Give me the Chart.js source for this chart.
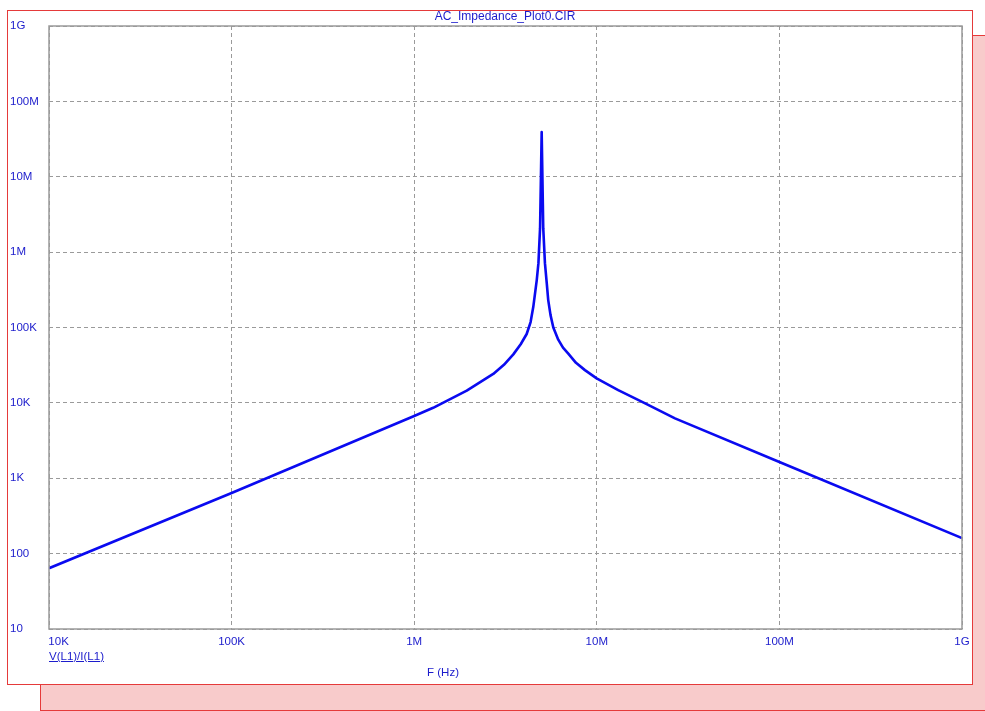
<!DOCTYPE html>
<html>
<head>
<meta charset="utf-8">
<script src="https://cdn.jsdelivr.net/npm/chart.js@4/dist/chart.umd.min.js"></script>
<style>
  html, body { margin: 0; padding: 0; background: #ffffff; }
  #wrap { position: relative; width: 985px; height: 711px; overflow: hidden; }
  .shadow { position: absolute; left: 40px; top: 35px; width: 960px; height: 674px;
            background: #f8cbcb; border: 1px solid #e53a3a; }
  .panel { position: absolute; left: 7px; top: 10px; width: 964px; height: 673px;
           background: #ffffff; border: 1px solid #e53a3a; }
  .txt { position: absolute; font-family: "Liberation Sans", Arial, sans-serif;
         font-size: 11.5px; color: #1c1ccc; white-space: nowrap; line-height: 1; }
  #title { left: 505px; top: 10px; transform: translateX(-50%); font-size: 12px; }
  #trace { left: 49px; top: 651px; text-decoration: underline; }
  #faxis { left: 443px; top: 667px; transform: translateX(-50%); }
  canvas { position: absolute; left: 0; top: 0; }
</style>
</head>
<body>
<div id="wrap">
  <div class="shadow"></div>
  <div class="panel"></div>
  <canvas id="chart" width="985" height="711"></canvas>
  <div class="txt" id="title">AC_Impedance_Plot0.CIR</div>
  <div class="txt" id="trace">V(L1)/I(L1)</div>
  <div class="txt" id="faxis">F (Hz)</div>
</div>
<script>
// Frequency sweep (Hz) and impedance magnitude V(L1)/I(L1) (ohms)
const freqHz = [1e4, 1e5, 1e6, 1.27e6, 1.94e6, 2.71e6, 3.1e6, 3.49e6, 3.83e6, 4.13e6,
  4.34e6, 4.49e6, 4.69e6, 4.79e6, 4.89e6, 4.99e6, 5.09e6, 5.2e6, 5.32e6, 5.42e6,
  5.58e6, 5.78e6, 6.15e6, 6.53e6, 6.98e6, 7.69e6, 8.61e6, 9.98e6, 1.31e7, 1.84e7,
  2.68e7, 1e8, 1e9];
const impedance = [64, 637, 6.7e3, 8.6e3, 1.45e4, 2.42e4, 3.2e4, 4.4e4, 6.0e4, 8.2e4,
  1.18e5, 1.88e5, 4.26e5, 7.14e5, 2.08e6, 3.91e7, 2.08e6, 7.14e5, 3.88e5, 2.31e5,
  1.46e5, 1.0e5, 6.9e4, 5.4e4, 4.5e4, 3.4e4, 2.72e4, 2.11e4, 1.48e4, 9.84e3,
  6.22e3, 1.64e3, 161];

// Decade ticks and their labels
const xTickValues = [1e4, 1e5, 1e6, 1e7, 1e8, 1e9];
const xTickLabels = ["10K", "100K", "1M", "10M", "100M", "1G"];
const yTickValues = [10, 100, 1e3, 1e4, 1e5, 1e6, 1e7, 1e8, 1e9];
const yTickLabels = ["10", "100", "1K", "10K", "100K", "1M", "10M", "100M", "1G"];

const points = freqHz.map((f, i) => ({ x: f, y: impedance[i] }));

const labelFont = { family: "'Liberation Sans', Arial, sans-serif", size: 11.5 };
const labelColor = '#1c1ccc';
const gridColor = '#9a9a9a';

// Solid frame around the plotting area
const framePlugin = {
  id: 'frame',
  afterDraw(chart) {
    const { ctx, chartArea: a } = chart;
    ctx.save();
    ctx.strokeStyle = '#9a9a9a';
    ctx.lineWidth = 1.5;
    ctx.setLineDash([]);
    ctx.strokeRect(a.left, a.top, a.right - a.left, a.bottom - a.top);
    ctx.restore();
  }
};

new Chart(document.getElementById('chart'), {
  type: 'line',
  data: {
    datasets: [{
      data: points,
      borderColor: '#0a0af0',
      borderWidth: 2.6,
      pointRadius: 0,
      tension: 0,
      borderJoinStyle: 'round',
      fill: false
    }]
  },
  options: {
    responsive: false,
    animation: false,
    layout: { padding: { left: 10, top: 26, right: 23, bottom: 62 } },
    plugins: { legend: { display: false }, tooltip: { enabled: false }, title: { display: false } },
    scales: {
      x: {
        type: 'logarithmic',
        min: 1e4, max: 1e9,
        afterBuildTicks(scale) { scale.ticks = xTickValues.map(v => ({ value: v })); },
        afterFit(scale) { scale.height = 20; },
        grid: { color: gridColor, lineWidth: 1, drawTicks: false },
        border: { display: false, dash: [4, 3] },
        ticks: {
          autoSkip: false, maxRotation: 0, padding: 6,
          font: labelFont, color: labelColor,
          callback(value, index) {
            const s = xTickLabels[index];
            return index === 0 ? '\u00a0\u00a0\u00a0\u00a0\u00a0\u00a0' + s : s;
          }
        }
      },
      y: {
        type: 'logarithmic',
        min: 10, max: 1e9,
        afterBuildTicks(scale) { scale.ticks = yTickValues.map(v => ({ value: v })); },
        afterFit(scale) { scale.width = 39; },
        grid: { color: gridColor, lineWidth: 1, drawTicks: false },
        border: { display: false, dash: [4, 3] },
        ticks: {
          autoSkip: false, crossAlign: 'far', padding: 4,
          font: labelFont, color: labelColor,
          callback(value, index) { return yTickLabels[index]; }
        }
      }
    }
  },
  plugins: [framePlugin]
});
</script>
</body>
</html>
